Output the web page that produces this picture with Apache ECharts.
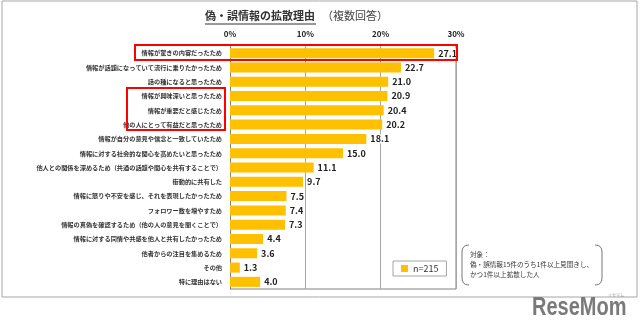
<!DOCTYPE html>
<html><head><meta charset="utf-8">
<script src="https://cdn.jsdelivr.net/npm/echarts@6/dist/echarts.min.js"></script>
<style>html,body{margin:0;padding:0;background:#fff}#c{width:640px;height:331px}</style>
</head><body><div id="c"></div>
<script>
const categories = [
  '情報が驚きの内容だったため',
  '情報が話題になっていて流行に乗りたかったため',
  '話の種になると思ったため',
  '情報が興味深いと思ったため',
  '情報が重要だと感じたため',
  '他の人にとって有益だと思ったため',
  '情報が自分の意見や信念と一致していたため',
  '情報に対する社会的な関心を高めたいと思ったため',
  '他人との関係を深めるため（共通の話題や関心を共有することで）',
  '衝動的に共有した',
  '情報に怒りや不安を感じ、それを表現したかったため',
  'フォロワー数を増やすため',
  '情報の真偽を確認するため（他の人の意見を聞くことで）',
  '情報に対する同情や共感を他人と共有したかったため',
  '他者からの注目を集めるため',
  'その他',
  '特に理由はない'
];
const values = [27.1, 22.7, 21.0, 20.9, 20.4, 20.2, 18.1, 15.0, 11.1, 9.7, 7.5, 7.4, 7.3, 4.4, 3.6, 1.3, 4.0];
const seriesName = 'n=215';
const titleText = '偽・誤情報の拡散理由';
const subText = '（複数回答）';
const noteLines = ['対象：', '偽・誤情報15件のうち1件以上見聞きし、', 'かつ1件以上拡散した人'];

const FONT = '"Noto Sans CJK JP", "Noto Sans", sans-serif';
const chart = echarts.init(document.getElementById('c'), null, {renderer: 'canvas'});
const bracketStyle = {fill: 'none', stroke: '#777', lineWidth: 1};
chart.setOption({
  animation: false,
  textStyle: {fontFamily: FONT},
  grid: {left: 230, right: 184, top: 46, bottom: 42},
  xAxis: {
    type: 'value', position: 'top', min: 0, max: 30, interval: 10,
    axisLabel: {formatter: '{value}%', fontSize: 8, fontWeight: 'bold', color: '#222', margin: 8},
    axisLine: {show: false}, axisTick: {show: false},
    splitLine: {show: true, lineStyle: {color: '#a6a6a6', width: 1}}
  },
  yAxis: {
    type: 'category', inverse: true, data: categories,
    axisLine: {show: true, lineStyle: {color: '#808080'}},
    axisTick: {show: false},
    axisLabel: {fontSize: 6.2, fontWeight: 'bold', color: '#333', margin: 8}
  },
  legend: {
    left: 393, top: 261, itemWidth: 7, itemHeight: 7, itemGap: 4,
    padding: [3, 8, 3, 8], borderColor: '#a6a6a6', borderWidth: 1,
    textStyle: {fontSize: 9, color: '#333', fontFamily: FONT},
    data: [{name: seriesName, icon: 'rect'}]
  },
  series: [{
    name: seriesName, type: 'bar', data: values, barCategoryGap: '30%',
    itemStyle: {color: '#FFC000'},
    label: {show: true, position: 'right', formatter: p => p.value.toFixed(1),
      fontSize: 9, fontWeight: 'bold', color: '#222', distance: 4,
      backgroundColor: '#fff'}
  }],
  graphic: [
    {type: 'rect', shape: {x: 2, y: 1, width: 635, height: 296}, style: {fill: 'none', stroke: '#a6a6a6', lineWidth: 1}, z: 0},
    {type: 'line', shape: {x1: 456, y1: 46, x2: 456, y2: 289}, style: {stroke: '#808080', lineWidth: 1}},
    {type: 'line', shape: {x1: 230, y1: 289, x2: 456, y2: 289}, style: {stroke: '#808080', lineWidth: 1}},
    {type: 'text', x: 205, y: 10, style: {text: titleText, font: 'bold 11px ' + FONT, fill: '#333'}},
    {type: 'line', shape: {x1: 205, y1: 24, x2: 316, y2: 24}, style: {stroke: '#333', lineWidth: 1}},
    {type: 'text', x: 322, y: 10, style: {text: subText, font: '11px ' + FONT, fill: '#444'}},
    {type: 'rect', shape: {x: 135, y: 45, width: 322, height: 15}, style: {fill: 'none', stroke: '#ff0000', lineWidth: 2}, z: 10},
    {type: 'rect', shape: {x: 127, y: 88, width: 98, height: 42}, style: {fill: 'none', stroke: '#ff0000', lineWidth: 2}, z: 10},
    {type: 'bezierCurve', shape: {x1: 469, y1: 245, cpx1: 462, cpy1: 245, x2: 462, y2: 252}, style: bracketStyle},
    {type: 'line', shape: {x1: 462, y1: 252, x2: 462, y2: 278}, style: bracketStyle},
    {type: 'bezierCurve', shape: {x1: 462, y1: 278, cpx1: 462, cpy1: 285, x2: 469, y2: 285}, style: bracketStyle},
    {type: 'bezierCurve', shape: {x1: 595, y1: 245, cpx1: 602, cpy1: 245, x2: 602, y2: 252}, style: bracketStyle},
    {type: 'line', shape: {x1: 602, y1: 252, x2: 602, y2: 278}, style: bracketStyle},
    {type: 'bezierCurve', shape: {x1: 602, y1: 278, cpx1: 602, cpy1: 285, x2: 595, y2: 285}, style: bracketStyle},
    {type: 'text', x: 470, y: 249, style: {text: noteLines.join('\n'), font: '6.6px ' + FONT, fill: '#333', lineHeight: 10}},
    {type: 'text', x: 532, y: 296, scaleX: 0.8, style: {text: 'ReseMom', font: 'bold 25px "Liberation Sans", sans-serif', fill: '#7a7a7a'}},
    {type: 'text', x: 608, y: 293, style: {text: 'リセマム', font: '4px ' + FONT, fill: '#999'}}
  ]
});
</script></body></html>
